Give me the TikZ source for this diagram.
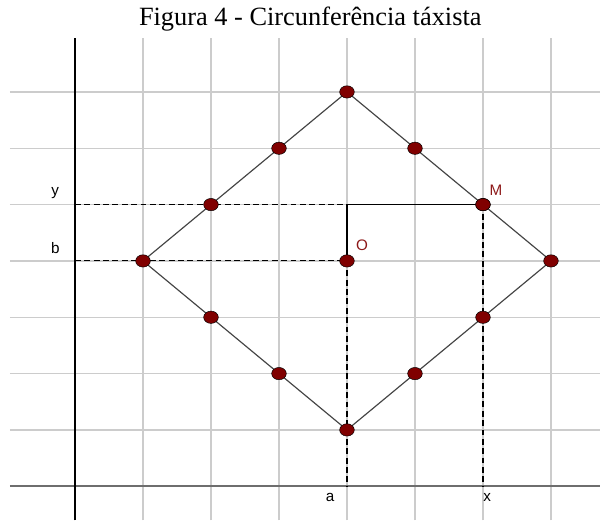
\documentclass[tikz,border=0pt]{standalone}
\usepackage{fontspec}
\setmainfont{Liberation Serif}
\newfontfamily\labelfont{Liberation Sans}
\usepackage{tikz}
\usetikzlibrary{shapes.geometric, backgrounds}
\definecolor{dotred}{HTML}{800000}
\definecolor{gridgray}{HTML}{CCCCCC}
\definecolor{edgegray}{HTML}{444444}
\definecolor{axisgray}{HTML}{6E6E6E}

\begin{document}
\begin{tikzpicture}[
  x = 2.04cm, y = 1.69cm,
  vtx/.style = {ellipse, draw=black, line width=0.4pt, fill=dotred, inner sep=0pt,
                minimum width=0.44cm, minimum height=0.37cm},
  lbl/.style = {font=\labelfont\fontsize{13}{15}\selectfont, inner sep=0pt},
  guide/.style = {dashed, dash pattern=on 5pt off 3pt, line width=0.9pt}
]
  \useasboundingbox (-1.103,-0.604) rectangle (7.721,8.632);

  % title
  \node[font=\fontsize{22.5}{26}\selectfont] (title) at (3.46,8.3) {Figura 4 - Circunfer\^encia t\'axista};

  % points of the taxicab circle
  \node[vtx] (O) at (4,4) {};
  \foreach \px/\py [count=\i] in {4/7, 5/6, 6/5, 7/4, 6/3, 5/2, 4/1, 3/2, 2/3, 1/4, 2/5, 3/6}
    \node[vtx] (p\i) at (\px,\py) {};
  \node[vtx] (M) at (6,5) {};

  \coordinate (ya) at (0,5);
  \coordinate (ba) at (0,4);
  \coordinate (aa) at (4,0);
  \coordinate (xa) at (6,0);
  \coordinate (corner) at (4,5);

  % labels
  \node[lbl] (ylab) at (-0.29,5.2)  {y};
  \node[lbl] (blab) at (-0.29,4.23) {b};
  \node[lbl] (alab) at (3.75,-0.2)  {a};
  \node[lbl] (xlab) at (6.06,-0.2)  {x};
  \node[lbl, text=dotred!90] (mlab) at (6.19,5.26) {M};
  \node[lbl, text=dotred!90] (olab) at (4.22,4.28) {O};

  \begin{scope}[on background layer]
    % grid
    \foreach \k in {1,...,7} {
      \draw[gridgray, line width=1.1pt] (-0.956,\k) -- (7.721,\k);
      \draw[gridgray, line width=1.1pt] (\k,-0.604) -- (\k,7.96);
    }
    % axes
    \draw[axisgray, line width=1.6pt] (-0.956,0) -- (7.721,0);
    \draw[black, line width=1.1pt] (0,-0.604) -- (0,7.96);

    % diamond
    \draw[edgegray, line width=1pt] (p1.center) -- (p2.center) -- (p3.center) -- (p4.center)
      -- (p5.center) -- (p6.center) -- (p7.center) -- (p8.center) -- (p9.center)
      -- (p10.center) -- (p11.center) -- (p12.center) -- cycle;

    % guides
    \draw[guide] (ya) -- (corner);
    \draw[guide] (ba) -- (O.center);
    \draw[guide] (O.center) -- (aa);
    \draw[guide] (M.center) -- (xa);
    \draw[line width=1.4pt] (O.center) |- (M.center);
  \end{scope}
\end{tikzpicture}
\end{document}
